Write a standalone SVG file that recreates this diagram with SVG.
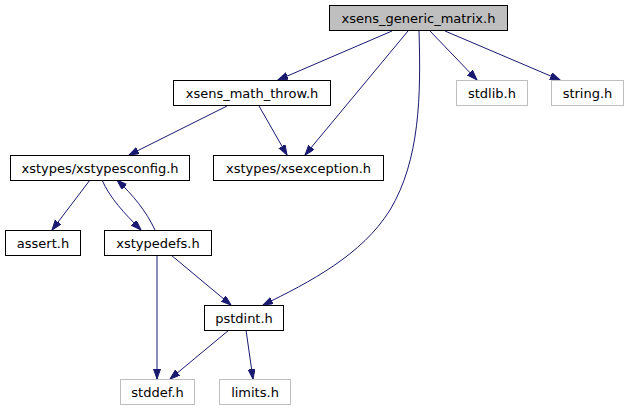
<svg xmlns="http://www.w3.org/2000/svg" width="627" height="411" viewBox="0 0 627 411">
<defs>
<marker id="arr" markerUnits="userSpaceOnUse" markerWidth="11" markerHeight="8" refX="10" refY="3.5" orient="auto">
<path d="M0,0 L10,3.5 L0,7 z" fill="#191970" stroke="#191970" stroke-width="1"/>
</marker>
</defs>
<style>
text{font-family:"DejaVu Sans",sans-serif;font-size:13px;text-anchor:middle;fill:#000}
.n rect{fill:#fff;stroke:#000;stroke-width:1}
.g rect{fill:#fff;stroke:#bfbfbf;stroke-width:1}
.c path{fill:none;stroke:#191970;stroke-width:1;marker-end:url(#arr)}
</style>
<rect width="627" height="411" fill="#fff"/>
<g class="c" id="edges">
<path d="M392,31 L278,80"/>
<path d="M408,31 L305,155"/>
<path d="M419,31 C421,95 420,160 390,210 C362,255 310,282 263,305"/>
<path d="M430,31 L477,80"/>
<path d="M445,31 L560,80"/>
<path d="M227,106 L129,155"/>
<path d="M259,106 L287,155"/>
<path d="M90,180 L52,230"/>
<path d="M102,180 C110,198 124,213 141,230"/>
<path d="M155,230 C146,211 133,195 117,180"/>
<path d="M171,255 L231,305"/>
<path d="M157,255 L157,379"/>
<path d="M229,330 L170,379"/>
<path d="M246,330 L253,379"/>
</g>
<g class="n" id="n_main"><rect x="329.5" y="5.5" width="178" height="25" style="fill:#bfbfbf"/><text x="418.5" y="22.5">xsens_generic_matrix.h</text></g>
<g class="n" id="n_maththrow"><rect x="173.5" y="80.5" width="157" height="25"/><text x="252" y="97.5">xsens_math_throw.h</text></g>
<g class="g" id="n_stdlib"><rect x="456.5" y="80.5" width="71" height="25"/><text x="492" y="97.5">stdlib.h</text></g>
<g class="g" id="n_string"><rect x="551.5" y="80.5" width="72" height="25"/><text x="587.5" y="97.5">string.h</text></g>
<g class="n" id="n_xstypesconfig"><rect x="10.5" y="155.5" width="179" height="25"/><text x="100" y="172.5">xstypes/xstypesconfig.h</text></g>
<g class="n" id="n_xsexception"><rect x="213.5" y="155.5" width="170" height="25"/><text x="298.5" y="172.5">xstypes/xsexception.h</text></g>
<g class="n" id="n_assert"><rect x="5.5" y="230.5" width="75" height="25"/><text x="43" y="247.5">assert.h</text></g>
<g class="n" id="n_xstypedefs"><rect x="104.5" y="230.5" width="107" height="25"/><text x="158" y="247.5">xstypedefs.h</text></g>
<g class="n" id="n_pstdint"><rect x="204.5" y="305.5" width="79" height="25"/><text x="244" y="322.5">pstdint.h</text></g>
<g class="g" id="n_stddef"><rect x="120.5" y="379.5" width="74" height="25"/><text x="157.5" y="396.5">stddef.h</text></g>
<g class="g" id="n_limits"><rect x="219.5" y="379.5" width="71" height="25"/><text x="255" y="396.5">limits.h</text></g>
</svg>
